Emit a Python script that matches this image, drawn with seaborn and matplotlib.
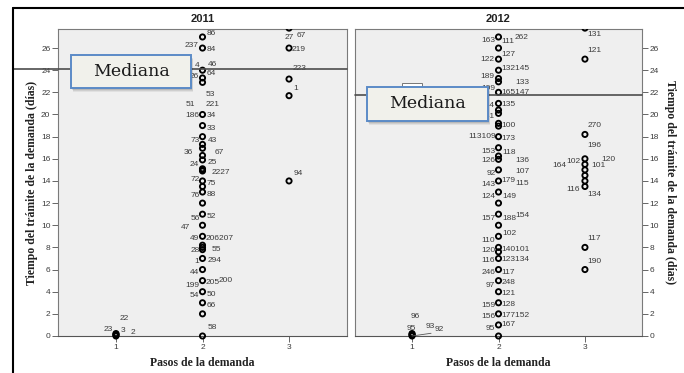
import matplotlib
matplotlib.use("Agg")
import matplotlib.pyplot as plt
import pandas as pd
import seaborn as sns
from matplotlib.patches import Rectangle
from matplotlib.lines import Line2D
from matplotlib.transforms import blended_transform_factory

W, H = 684, 373

# Outlying cases: days of processing by number of steps (pasos)
dias_2011_paso1 = [0, 0.08, 0.15, 0.22]
dias_2011_paso2 = [27, 26, 24, 23.3, 22.9, 20, 19, 18, 17.3, 16.95, 16.3, 15.9,
                   15.1, 15, 14.9, 14, 13.5, 13, 12, 11, 10, 9, 8.2, 8.0, 7.8,
                   7, 6, 5, 4, 3, 2, 0]
dias_2011_paso3 = [27.8, 26, 23.2, 21.7, 14]

dias_2012_paso1 = [0, 0.08, 0.15, 0.22]
dias_2012_paso2 = [27, 26, 25, 24, 23.25, 22.95, 22, 21, 20.4, 20.1, 19.2, 18.95,
                   18, 17, 16.25, 15.95, 15, 14, 13, 12, 11, 10, 9, 8.0, 7.6,
                   7, 6, 5, 4, 3, 2, 1, 0]
dias_2012_paso3 = [27.8, 25, 18.2, 16, 15.5, 15, 14.5, 14, 13.5, 8, 6]

mediana_2011 = 24.1
mediana_2012 = 21.75
caja_2012_paso1 = [21.4, 22.8]

pasos = [1, 2, 3]
y_ticks = list(range(0, 27, 2))

# Case identifiers: (text, step, value of the case they belong to)
casos_2011 = [
    ("23", 1, 0), ("3", 1, 0), ("2", 1, 0), ("22", 1, 0),
    ("86", 2, 27), ("237", 2, 26), ("84", 2, 26), ("4", 2, 24), ("46", 2, 24),
    ("64", 2, 24), ("26", 2, 23.3), ("53", 2, 22.9), ("51", 2, 20), ("221", 2, 20),
    ("186", 2, 20), ("34", 2, 20), ("33", 2, 19), ("73", 2, 18), ("43", 2, 18),
    ("36", 2, 17.3), ("67", 2, 17.3), ("24", 2, 15.9), ("25", 2, 15.9),
    ("2227", 2, 15), ("72", 2, 14), ("75", 2, 14), ("76", 2, 13), ("88", 2, 13),
    ("56", 2, 11), ("52", 2, 11), ("47", 2, 10), ("49", 2, 9), ("206207", 2, 9),
    ("28", 2, 8.0), ("55", 2, 8.0), ("1", 2, 7), ("294", 2, 7), ("44", 2, 6),
    ("199", 2, 5), ("205", 2, 5), ("200", 2, 5), ("54", 2, 4), ("50", 2, 4),
    ("66", 2, 3), ("58", 2, 0),
    ("27", 3, 27.8), ("67", 3, 27.8), ("219", 3, 26), ("223", 3, 23.2),
    ("1", 3, 21.7), ("94", 3, 14),
]
# Placement of each identifier: side, dx, dy in pixels from its circle
ubic_2011 = [
    ("l", -2.7, 6.7), ("r", 4.5, 5.3), ("r", 14.5, 4), ("r", 4, 17),
    ("r", 4.5, 3), ("l", -4, 3), ("r", 4, -1), ("l", -3, 5), ("r", 5, 6),
    ("r", 4, -3), ("l", -3.5, 1), ("r", 3, -11.7), ("l", -7.5, 9.5), ("r", 3, 9.5),
    ("l", -3, -1), ("r", 4, -1), ("r", 4, -3), ("l", -3, -4), ("r", 5, -3.5),
    ("l", -10, -8), ("r", 12.5, -8), ("l", -3.5, -4.5), ("r", 5, -2.5),
    ("r", 9, -3), ("l", -3, 1), ("r", 4, -2.5), ("l", -3, -3.7), ("r", 4, -2.3),
    ("l", -2.5, -4), ("r", 4, -2.5), ("l", -12.5, -2), ("l", -3, -2), ("r", 3, -2),
    ("l", -3, -3), ("r", 9, -2.6), ("l", -3, -3), ("r", 5, -2.5), ("l", -3, -3),
    ("l", -3, -4.4), ("r", 3, -1.7), ("r", 16.5, 0), ("l", -3, -4), ("r", 4, -3.3),
    ("r", 4, -3.2), ("r", 5, 8.7),
    ("r", -4.5, -9.2), ("r", 7.7, -6.9), ("r", 3, -1), ("r", 3.3, 10.7),
    ("r", 4.3, 7.3), ("r", 4.3, 7.6),
]

casos_2012 = [
    ("96", 1, 0), ("95", 1, 0), ("93", 1, 0), ("92", 1, 0),
    ("163", 2, 27), ("111", 2, 27), ("262", 2, 27), ("127", 2, 26), ("122", 2, 25),
    ("132145", 2, 24), ("189", 2, 23.25), ("133", 2, 23.25), ("199", 2, 22),
    ("165147", 2, 22), ("144", 2, 21), ("135", 2, 21), ("141", 2, 20.1),
    ("100", 2, 19.2), ("113109", 2, 18), ("173", 2, 18), ("153", 2, 17),
    ("118", 2, 17), ("126", 2, 15.95), ("136", 2, 15.95), ("92", 2, 15),
    ("107", 2, 15), ("143", 2, 14), ("179", 2, 14), ("115", 2, 14), ("124", 2, 13),
    ("149", 2, 13), ("157", 2, 11), ("188", 2, 11), ("154", 2, 11), ("110", 2, 9),
    ("102", 2, 9), ("120", 2, 8.0), ("140101", 2, 8.0), ("116", 2, 7),
    ("123134", 2, 7), ("246", 2, 6), ("117", 2, 6), ("97", 2, 5), ("248", 2, 5),
    ("121", 2, 4), ("159", 2, 3), ("128", 2, 3), ("156", 2, 2), ("177152", 2, 2),
    ("95", 2, 1), ("167", 2, 1),
    ("131", 3, 27.8), ("121", 3, 25), ("270", 3, 18.2), ("196", 3, 16),
    ("120", 3, 16), ("101", 3, 16), ("164", 3, 15.5), ("102", 3, 15.5),
    ("116", 3, 13.5), ("134", 3, 13.5), ("117", 3, 8), ("190", 3, 6),
]
ubic_2012 = [
    ("r", -1, 19.3), ("r", -5.3, 7.7), ("r", 13.7, 9.3), ("r", 22.3, 6.7),
    ("l", -3, -3.6), ("r", 3, -5), ("r", 16, -0.6), ("r", 3, -6.3), ("l", -4, 0),
    ("r", 3, 1.5), ("l", -4, 2), ("r", 17, -4), ("l", -3.5, 4),
    ("r", 3, 0), ("l", -4, -1.6), ("r", 3, -0.6), ("l", -4, -3.3),
    ("r", 3, -1.7), ("l", -3, 0), ("r", 3, -1.7), ("l", -3, -3.3),
    ("r", 4, -5), ("l", -3.5, -1.4), ("r", 17, -1.4), ("l", -3, -3.5),
    ("r", 17, -2), ("l", -3, -3.4), ("r", 3, 0), ("r", 17, -2.4), ("l", -3, -4),
    ("r", 4, -4), ("l", -3.5, -4), ("r", 3.5, -4), ("r", 17, -1), ("l", -4, -3.7),
    ("r", 4, 3), ("l", -3.5, -3.3), ("r", 3, -2.6), ("l", -3.5, -2.2),
    ("r", 3, -1.5), ("l", -3.5, -3.2), ("r", 3, -2.5), ("l", -3.5, -4.4), ("r", 3, -1.7),
    ("r", 3, -2.3), ("l", -3.5, -3), ("r", 3, -2.2), ("l", -3.5, -2.2), ("r", 3, -1.2),
    ("l", -3.5, -4), ("r", 3, 0),
    ("r", 2.3, -6.2), ("r", 2.3, 9), ("r", 2.3, 8.7), ("r", 2.3, 13),
    ("r", 16.7, -1.2), ("r", 6.7, -6.9), ("l", -18.3, -0.7), ("l", -4.3, 2.6),
    ("l", -5, -2.8), ("r", 2, -8.5), ("r", 2.3, 9), ("r", 2.3, 8.5),
]

Y_TOP = 27.72
SANS = ["Liberation Sans", "DejaVu Sans"]
SERIF = ["Liberation Serif", "DejaVu Serif"]
GRIS_TEXTO = "#3c3c3c"
GRIS_EJE = "#7a7a7a"

sns.set_theme(style="white")
plt.rcParams["font.family"] = SANS

fig = plt.figure(figsize=(W / 100, H / 100), dpi=100)
fig.patch.set_facecolor("white")


def fx(px):
    return px / W


def fy(py):
    return 1 - py / H


ax1 = fig.add_axes([fx(58), fy(336), (347 - 58) / W, (336 - 29) / H])
ax2 = fig.add_axes([fx(355), fy(336), (642 - 355) / W, (336 - 29) / H])


def to_frame(p1, p2, p3):
    rows = [(1, v) for v in p1] + [(2, v) for v in p2] + [(3, v) for v in p3]
    return pd.DataFrame(rows, columns=["paso", "dias"])


def panel(ax, df, casos, ubic, xlim, lado):
    ax.set_facecolor("#efefef")
    inside = df[df["dias"] <= Y_TOP]
    above = df[df["dias"] > Y_TOP]
    for part, clip in ((inside, False), (above, True)):
        sns.scatterplot(data=part, x="paso", y="dias", ax=ax, marker="o", s=14,
                        color="black", linewidth=1.35, legend=False,
                        clip_on=clip, zorder=3)
    for coll in ax.collections:
        coll.set_facecolor("none")
        coll.set_edgecolor("black")
    for (txt, paso, val), (side, dx, dy) in zip(casos, ubic):
        kw = {}
        if txt == "92" and paso == 1:
            kw["arrowprops"] = dict(arrowstyle="-", color="#555555", lw=0.6,
                                    shrinkA=0, shrinkB=0, relpos=(0, 0))
        ax.annotate(txt, xy=(paso, val), xytext=(dx * 0.72, dy * 0.72),
                    textcoords="offset points", ha="left" if side == "r" else "right",
                    va="center", fontsize=6, color=GRIS_TEXTO, family=SANS,
                    annotation_clip=False, zorder=4, **kw)
    ax.set_xlim(*xlim)
    ax.set_ylim(0, Y_TOP)
    ax.set_xticks(pasos)
    ax.set_xticklabels([str(p) for p in pasos])
    ax.set_yticks(y_ticks)
    ax.set_xlabel("")
    ax.set_ylabel("")
    for s in ax.spines.values():
        s.set_visible(True)
        s.set_color(GRIS_EJE)
        s.set_linewidth(0.8)
    ax.spines["bottom"].set_color("#555555")
    ax.tick_params(axis="both", which="both", length=4, width=0.7, color="#666666",
                   labelsize=6, labelcolor=GRIS_TEXTO, pad=1.5)
    ax.tick_params(axis="x", bottom=True, top=False)
    if lado == "left":
        ax.tick_params(axis="y", left=True, right=False, labelleft=True, labelright=False)
    else:
        ax.tick_params(axis="y", left=False, right=True, labelleft=False, labelright=True)
    for lab in ax.get_xticklabels() + ax.get_yticklabels():
        lab.set_family(SANS)


panel(ax1, to_frame(dias_2011_paso1, dias_2011_paso2, dias_2011_paso3),
      casos_2011, ubic_2011, (0.33, 3.67), "left")
panel(ax2, to_frame(dias_2012_paso1, dias_2012_paso2, dias_2012_paso3),
      casos_2012, ubic_2012, (0.34, 3.66), "right")

# Partial box of the first step in 2012
ax2.add_patch(Rectangle((0.88, caja_2012_paso1[0]), 0.24,
                        caja_2012_paso1[1] - caja_2012_paso1[0],
                        facecolor="white", edgecolor="#777777", lw=0.7, zorder=2))

# Titles and axis labels
fig.text(fx(202.5), fy(19), "2011", ha="center", va="center", fontsize=8,
         fontweight="bold", family=SANS, color="#222222")
fig.text(fx(498.5), fy(19), "2012", ha="center", va="center", fontsize=8,
         fontweight="bold", family=SANS, color="#222222")
for xc in (202.5, 498.5):
    fig.text(fx(xc), fy(363), "Pasos de la demanda", ha="center", va="center",
             fontsize=8.5, fontweight="bold", family=SERIF, color="#222222")
fig.text(fx(32), fy(182.5), "Tiempo del trámite de la demanda (días)", rotation=90,
         ha="center", va="center", fontsize=8.5, fontweight="bold", family=SERIF,
         color="#222222")
fig.text(fx(670), fy(182.5), "Tiempo del trámite de la demanda (días)", rotation=-90,
         ha="center", va="center", fontsize=8.5, fontweight="bold", family=SERIF,
         color="#222222")

# Median reference lines
for ax, med, x0, x1 in ((ax1, mediana_2011, 13, 347), (ax2, mediana_2012, 355, 642)):
    tr = blended_transform_factory(fig.transFigure, ax.transData)
    fig.add_artist(Line2D([fx(x0), fx(x1)], [med, med], transform=tr,
                          color="#4d4d4d", lw=1.2, zorder=4))

# "Mediana" call-out boxes with soft shadow
for (x0, y0, x1, y1) in ((71, 55, 191, 88), (367, 87, 488, 121)):
    for k, a in ((4, 0.06), (3, 0.08), (2, 0.1), (1, 0.12)):
        fig.add_artist(Rectangle((fx(x0 + k * 0.5), fy(y1 + k)), (x1 - x0) / W,
                                 (y1 - y0) / H, transform=fig.transFigure,
                                 facecolor="black", edgecolor="none", alpha=a, zorder=5))
    fig.add_artist(Rectangle((fx(x0), fy(y1)), (x1 - x0) / W, (y1 - y0) / H,
                             transform=fig.transFigure, facecolor="#f1f1eb",
                             edgecolor="#5b8bc7", lw=1.4, zorder=6))
    fig.text(fx((x0 + x1) / 2), fy((y0 + y1) / 2), "Mediana", ha="center",
             va="center", fontsize=12.5, family=["DejaVu Serif"], color="#1a1a1a",
             zorder=7)

# Outer frame
fig.add_artist(Line2D([fx(12.5), 1], [fy(7.5), fy(7.5)], transform=fig.transFigure,
                      color="black", lw=1.5, zorder=8))
fig.add_artist(Line2D([fx(12.5), fx(12.5)], [0, fy(7.5)], transform=fig.transFigure,
                      color="black", lw=1.5, zorder=8))

fig.savefig("out.png", dpi=100)
